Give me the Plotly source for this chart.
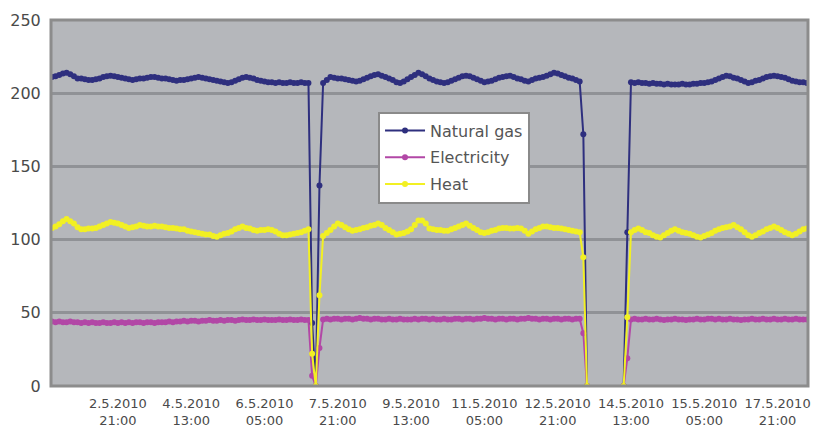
import plotly.graph_objects as go

# Samples every 2 hours (category index) (None = no reading)
tick_labels = ["2.5.2010<br>21:00", "4.5.2010<br>13:00", "6.5.2010<br>05:00", "7.5.2010<br>21:00",
               "9.5.2010<br>13:00", "11.5.2010<br>05:00", "12.5.2010<br>21:00", "14.5.2010<br>13:00",
               "15.5.2010<br>05:00", "17.5.2010<br>21:00"]
tick_index = [18, 38, 58, 78, 98, 118, 138, 158, 178, 198]

N = None
natural_gas = [
    211, 211.5, 212.5, 213.5, 214, 213, 211.5, 210, 210, 209.5,
    209, 209, 209.5, 210, 211, 211.5, 212, 211.5, 211, 210.5,
    210, 209.5, 209, 209.5, 210, 210, 210.5, 211, 211, 210.5,
    210, 210, 209.5, 209, 208.5, 209, 209, 209.5, 210, 210.5,
    211, 210.5, 210, 209.5, 209, 208.5, 208, 207.5, 207, 207.5,
    208.5, 209.5, 210.5, 211, 210.5, 210, 209, 208.5, 208, 207.5,
    207.5, 207, 207.5, 207, 207, 207.5, 207, 207, 207.5, 207,
    207, 43, 0, 137, 207, 209, 211, 210.5, 210, 210,
    209.5, 209, 208.5, 208, 208.5, 209.5, 210.5, 211.5, 212.5, 213,
    212, 211, 210, 209, 207.5, 207, 208, 209.5, 211, 212.5,
    214, 213, 211.5, 210, 209, 208, 207.5, 207, 207.5, 208.5,
    209.5, 210.5, 211.5, 212, 211.5, 210.5, 209.5, 208.5, 207.5, 208,
    208.5, 209.5, 210.5, 211, 211.5, 212, 211, 210, 209.5, 208.5,
    208, 209, 210, 210.5, 211, 212, 213, 214, 213.5, 212.5,
    211.5, 210.5, 210, 209, 208, 172, 0, N, N, N,
    N, N, N, N, N, N, 0, 105, 207.5, 207,
    207.5, 207, 207, 206.5, 207, 206.5, 206.5, 206, 206.5, 206,
    206, 206, 206.5, 206, 206, 206.5, 206.5, 207, 207, 207.5,
    208, 209, 210, 211, 212, 211.5, 210.5, 210, 209, 208,
    207, 207.5, 208.5, 209, 210, 211, 211.5, 212, 211.5, 211,
    210.5, 209.5, 208.5, 208, 207.5, 207.5, 207]

electricity = [
    44, 43.5, 44, 43.5, 43.5, 44, 43.5, 43.5, 43, 43.5,
    43, 43.5, 43, 43, 43.5, 43, 43, 43.5, 43, 43.5,
    43, 43.5, 43, 43.5, 43.5, 43, 43.5, 43.5, 43, 43.5,
    43.5, 43.5, 44, 43.5, 44, 44, 44.5, 44, 44.5, 44.5,
    44, 44.5, 44.5, 45, 44.5, 44.5, 45, 44.5, 45, 45,
    44.5, 45, 45.5, 45, 45, 45.5, 45, 45, 45.5, 45,
    45, 45, 45.5, 45, 45, 45.5, 45, 45, 45.5, 45,
    45, 7, 0, 26, 45.5, 46, 45.5, 46, 46, 45.5,
    46, 46, 45.5, 46, 46.5, 46, 46, 45.5, 46, 46,
    45.5, 45.5, 46, 45.5, 45.5, 46, 45.5, 45.5, 45.5, 46,
    45.5, 46, 46, 45.5, 46, 45.5, 45.5, 46, 45.5, 45.5,
    46, 46, 45.5, 46, 46, 45.5, 46, 46, 46.5, 46,
    46, 45.5, 46, 46, 45.5, 46, 46, 45.5, 46, 46,
    46.5, 46, 46, 45.5, 46, 46, 45.5, 46, 46, 45.5,
    46, 46, 45.5, 46, 46, 36, 0, N, N, N,
    N, N, N, N, N, N, 0, 19, 45.5, 46,
    45.5, 45.5, 46, 45.5, 45.5, 46, 45.5, 45, 45.5, 45.5,
    46, 45.5, 45.5, 45, 45.5, 45.5, 46, 45.5, 45.5, 46,
    46, 45.5, 46, 45.5, 45.5, 46, 45.5, 45.5, 45, 45.5,
    45.5, 46, 45.5, 45.5, 46, 45.5, 45.5, 46, 45.5, 45.5,
    46, 45.5, 45.5, 46, 45.5, 45.5, 45.5]

heat = [
    108, 109, 110.5, 112.5, 114, 112.5, 111, 108.5, 107, 107,
    107.5, 107.5, 108, 109, 110, 111, 112, 111.5, 111, 110,
    109, 108, 108.5, 109, 110, 109.5, 109, 109, 109.5, 109,
    109, 108.5, 108, 108, 107.5, 107, 107, 106, 105.5, 105,
    104.5, 104, 103.5, 103.5, 102.5, 102, 103, 104, 104.5, 105.5,
    107, 108, 109, 108, 107.5, 106.5, 106, 106.5, 106.5, 107,
    106.5, 105.5, 104, 103, 103, 103.5, 104, 104.5, 105, 106,
    107, 22, 0, 62, 102.5, 104.5, 106.5, 109, 111, 110,
    108.5, 107, 106, 106.5, 107, 108, 108.5, 109.5, 110, 111,
    110, 108, 106.5, 105, 103.5, 104, 104.5, 105.5, 107, 110,
    113, 113, 111, 107.5, 107, 106.5, 106.5, 106, 106, 107,
    108, 109, 110, 111, 109.5, 108, 106.5, 105, 104.5, 105,
    106, 106.5, 107.5, 108, 108, 107.5, 107.5, 108, 107.5, 106,
    104, 105.5, 107, 108, 109, 109, 108.5, 108, 108, 107.5,
    107, 106.5, 106, 105.5, 105, 88, 0, N, N, N,
    N, N, N, N, N, N, 0, 47, 105, 106.5,
    107.5, 106.5, 105, 104.5, 103, 102, 101.5, 103, 104.5, 106,
    107, 106, 105, 104.5, 104, 103, 102, 101.5, 102.5, 103.5,
    104.5, 106, 107, 108, 108.5, 109, 110, 108.5, 107, 105,
    103, 102, 103, 104.5, 105.5, 107, 108, 109, 108, 106.5,
    105, 104, 103, 104, 105.5, 107, 107.5]

series_names = ["Natural gas", "Electricity", "Heat"]
series_colors = ["#2e2f7e", "#b247a6", "#f2f023"]

x_index = list(range(len(natural_gas)))

fig = go.Figure()
for name, vals, col in zip(series_names, [natural_gas, electricity, heat], series_colors):
    fig.add_trace(go.Scatter(
        x=x_index, y=vals, name=name, mode="lines+markers", legendgroup=name,
        line=dict(color=col, width=2),
        marker=dict(color=col, size=6, symbol="circle"),
    ))

font_family = "DejaVu Sans, Verdana, sans-serif"

fig.update_layout(
    width=818, height=428,
    margin=dict(l=51, r=10, t=20, b=42),
    paper_bgcolor="white",
    plot_bgcolor="#b5b7bb",
    showlegend=True,
    legend=dict(
        x=0.432, y=0.75, xanchor="left", yanchor="top",
        bgcolor="white", bordercolor="#8a8a8a", borderwidth=2,
        font=dict(family=font_family, size=16, color="#555555"),
        itemwidth=40, tracegroupgap=3,
    ),
    xaxis=dict(
        range=[-0.25, 206.3],
        tickmode="array", tickvals=tick_index, ticktext=tick_labels,
        showgrid=False, zeroline=False, ticks="outside", ticklen=5,
        tickcolor="rgba(0,0,0,0)",
        tickfont=dict(family=font_family, size=13, color="#4a4a4a"),
        showline=False, automargin=False,
    ),
    yaxis=dict(
        range=[0, 250],
        tickvals=[0, 50, 100, 150, 200, 250],
        showgrid=True, gridcolor="#909296", gridwidth=3,
        zeroline=False, ticks="outside", ticklen=6, tickcolor="rgba(0,0,0,0)",
        tickfont=dict(family=font_family, size=16, color="#4a4a4a"),
        showline=False, automargin=False,
    ),
)

fig.add_shape(type="rect", xref="paper", yref="paper", x0=0, y0=0, x1=1, y1=1,
              line=dict(color="#8c8c8c", width=3), layer="above")

fig.write_html("out.html", config={"displayModeBar": False},
               post_script="document.body.style.margin='0';")
